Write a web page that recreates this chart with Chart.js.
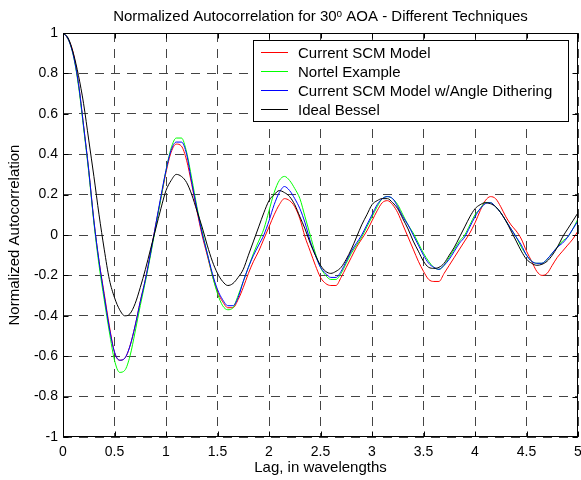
<!DOCTYPE html>
<html lang="en">
<head>
<meta charset="UTF-8">
<title>Normalized Autocorrelation for 30 AOA</title>
<style>
  html, body { margin: 0; padding: 0; background: #fff; }
  #chart { display: block; }
</style>
</head>
<body>
<canvas id="chart" width="581" height="480"></canvas>
<script src="https://cdn.jsdelivr.net/npm/chart.js@4.4.1/dist/chart.umd.min.js"></script>
<script>
// lag in wavelengths (x values)
var lag = [
  0, 0.05, 0.1, 0.15, 0.2, 0.25, 0.3, 0.35, 0.4, 0.45, 0.5, 0.55, 0.6, 0.65, 0.7, 0.75, 0.8, 0.85, 0.9, 0.95,
  1, 1.05, 1.1, 1.15, 1.2, 1.25, 1.3, 1.35, 1.4, 1.45, 1.5, 1.55, 1.6, 1.65, 1.7, 1.75, 1.8, 1.85, 1.9, 1.95,
  2, 2.05, 2.1, 2.15, 2.2, 2.25, 2.3, 2.35, 2.4, 2.45, 2.5, 2.55, 2.6, 2.65, 2.7, 2.75, 2.8, 2.85, 2.9, 2.95,
  3, 3.05, 3.1, 3.15, 3.2, 3.25, 3.3, 3.35, 3.4, 3.45, 3.5, 3.55, 3.6, 3.65, 3.7, 3.75, 3.8, 3.85, 3.9, 3.95,
  4, 4.05, 4.1, 4.15, 4.2, 4.25, 4.3, 4.35, 4.4, 4.45, 4.5, 4.55, 4.6, 4.65, 4.7, 4.75, 4.8, 4.85, 4.9, 4.95,
  5
];

var currentScm = [
  1.00, 0.97, 0.90, 0.75, 0.54, 0.32, 0.07, -0.13, -0.29, -0.45, -0.58, -0.62, -0.61, -0.55, -0.45, -0.33, -0.22, -0.09, 0.05, 0.18,
  0.31, 0.41, 0.45, 0.44, 0.37, 0.25, 0.12, 0.00, -0.10, -0.20, -0.28, -0.33, -0.36, -0.36, -0.32, -0.26, -0.19, -0.13, -0.08, -0.02,
  0.04, 0.10, 0.15, 0.18, 0.17, 0.14, 0.08, -0.01, -0.08, -0.15, -0.21, -0.24, -0.25, -0.25, -0.21, -0.16, -0.11, -0.06, -0.02, 0.02,
  0.07, 0.12, 0.16, 0.17, 0.15, 0.11, 0.05, -0.01, -0.07, -0.13, -0.18, -0.22, -0.23, -0.23, -0.19, -0.15, -0.11, -0.07, -0.03, 0.01,
  0.06, 0.12, 0.17, 0.19, 0.18, 0.14, 0.09, 0.05, 0.02, -0.02, -0.08, -0.13, -0.18, -0.20, -0.19, -0.15, -0.11, -0.08, -0.05, -0.02,
  0.02
];

var nortel = [
  1.00, 0.97, 0.89, 0.74, 0.53, 0.31, 0.06, -0.15, -0.32, -0.48, -0.62, -0.68, -0.67, -0.60, -0.48, -0.35, -0.23, -0.10, 0.04, 0.18,
  0.32, 0.43, 0.48, 0.48, 0.41, 0.28, 0.14, 0.02, -0.09, -0.20, -0.29, -0.35, -0.37, -0.36, -0.30, -0.23, -0.16, -0.09, -0.03, 0.03,
  0.12, 0.21, 0.27, 0.29, 0.27, 0.23, 0.18, 0.09, 0.00, -0.09, -0.16, -0.20, -0.22, -0.22, -0.19, -0.14, -0.09, -0.05, -0.01, 0.04,
  0.09, 0.14, 0.18, 0.19, 0.18, 0.15, 0.10, 0.05, 0.01, -0.04, -0.09, -0.13, -0.16, -0.17, -0.15, -0.11, -0.07, -0.03, 0.00, 0.05,
  0.10, 0.13, 0.16, 0.16, 0.14, 0.11, 0.07, 0.03, -0.01, -0.06, -0.10, -0.13, -0.14, -0.14, -0.12, -0.09, -0.06, -0.03, -0.01, 0.03,
  0.08
];

var dithering = [
  1.00, 0.97, 0.89, 0.75, 0.54, 0.32, 0.07, -0.13, -0.30, -0.46, -0.58, -0.62, -0.61, -0.55, -0.45, -0.33, -0.22, -0.09, 0.05, 0.19,
  0.32, 0.42, 0.46, 0.46, 0.40, 0.26, 0.13, 0.01, -0.09, -0.19, -0.27, -0.32, -0.35, -0.35, -0.31, -0.23, -0.16, -0.10, -0.05, 0.00,
  0.07, 0.15, 0.21, 0.24, 0.22, 0.18, 0.13, 0.06, -0.03, -0.10, -0.16, -0.19, -0.21, -0.21, -0.18, -0.13, -0.08, -0.04, 0.00, 0.05,
  0.10, 0.15, 0.18, 0.19, 0.18, 0.14, 0.09, 0.05, 0.00, -0.05, -0.10, -0.14, -0.16, -0.17, -0.15, -0.12, -0.08, -0.04, -0.01, 0.04,
  0.09, 0.13, 0.155, 0.16, 0.14, 0.11, 0.07, 0.03, -0.01, -0.05, -0.10, -0.13, -0.14, -0.14, -0.12, -0.09, -0.06, -0.04, -0.01, 0.03,
  0.07
];

var idealBessel = [
  1.00, 0.975, 0.90, 0.79, 0.65, 0.47, 0.29, 0.10, -0.07, -0.22, -0.31, -0.37, -0.40, -0.39, -0.34, -0.26, -0.17, -0.07, 0.03, 0.13,
  0.22, 0.27, 0.30, 0.29, 0.26, 0.20, 0.12, 0.04, -0.05, -0.13, -0.19, -0.23, -0.25, -0.24, -0.21, -0.17, -0.10, -0.03, 0.04, 0.11,
  0.17, 0.20, 0.22, 0.21, 0.19, 0.15, 0.09, 0.03, -0.04, -0.10, -0.15, -0.18, -0.19, -0.18, -0.16, -0.12, -0.07, -0.01, 0.05, 0.10,
  0.15, 0.17, 0.18, 0.18, 0.16, 0.13, 0.08, 0.03, -0.03, -0.08, -0.13, -0.16, -0.165, -0.16, -0.14, -0.10, -0.06, -0.01, 0.04, 0.09,
  0.13, 0.15, 0.16, 0.155, 0.14, 0.11, 0.07, 0.02, -0.03, -0.08, -0.12, -0.14, -0.15, -0.145, -0.13, -0.10, -0.06, -0.01, 0.03, 0.07,
  0.11
];

var seriesNames = ['Current SCM Model', 'Nortel Example', 'Current SCM Model w/Angle Dithering', 'Ideal Bessel'];
var seriesColors = ['#ff0000', '#00ff00', '#0000ff', '#000000'];
var xTicks = [0, 0.5, 1, 1.5, 2, 2.5, 3, 3.5, 4, 4.5, 5];
var yTicks = [-1, -0.8, -0.6, -0.4, -0.2, 0, 0.2, 0.4, 0.6, 0.8, 1];

var FONT = '"Liberation Sans", Arial, Helvetica, sans-serif';

function points(ys) {
  return lag.map(function (x, i) { return { x: x, y: ys[i] }; });
}

// title with superscript "o"
var titlePlugin = {
  id: 'matlabTitle',
  afterDraw: function (chart) {
    var ctx = chart.ctx, a = chart.chartArea;
    var parts = [
      { t: 'Normalized Autocorrelation for 30', f: '15px ' + FONT, dy: 0 },
      { t: 'o', f: '10px ' + FONT, dy: -4 },
      { t: ' AOA - Different Techniques', f: '15px ' + FONT, dy: 0 }
    ];
    ctx.save();
    var total = 0;
    parts.forEach(function (p) { ctx.font = p.f; p.w = ctx.measureText(p.t).width; total += p.w; });
    var x = (a.left + a.right) / 2 - total / 2;
    ctx.fillStyle = '#000';
    ctx.textBaseline = 'alphabetic';
    ctx.textAlign = 'left';
    parts.forEach(function (p) {
      ctx.font = p.f;
      ctx.fillText(p.t, x, 21 + p.dy);
      x += p.w;
    });
    ctx.restore();
  }
};

// axes box with inward ticks, and legend box
var framePlugin = {
  id: 'matlabFrame',
  afterDatasetsDraw: function (chart) {
    var ctx = chart.ctx, a = chart.chartArea;
    var xs = chart.scales.x, ys = chart.scales.y;
    var L = Math.round(a.left) + 0.5, R = Math.round(a.right) - 0.5;
    var T = Math.round(a.top) + 0.5, B = Math.round(a.bottom) - 0.5;
    ctx.save();
    ctx.strokeStyle = '#000';
    ctx.lineWidth = 1;
    ctx.setLineDash([]);
    ctx.strokeRect(L, T, R - L, B - T);
    ctx.beginPath();
    xTicks.forEach(function (v) {
      var px = Math.round(xs.getPixelForValue(v)) + 0.5;
      ctx.moveTo(px, B); ctx.lineTo(px, B - 5);
      ctx.moveTo(px, T); ctx.lineTo(px, T + 5);
    });
    yTicks.forEach(function (v) {
      var py = Math.round(ys.getPixelForValue(v)) + 0.5;
      ctx.moveTo(L, py); ctx.lineTo(L + 5, py);
      ctx.moveTo(R, py); ctx.lineTo(R - 5, py);
    });
    ctx.stroke();

    // legend
    var bx = 253.5, by = 40.5, bw = 315, bh = 81;
    ctx.fillStyle = '#fff';
    ctx.fillRect(bx, by, bw, bh);
    ctx.strokeRect(bx, by, bw, bh);
    ctx.font = '15px ' + FONT;
    ctx.textBaseline = 'alphabetic';
    ctx.textAlign = 'left';
    chart.data.datasets.forEach(function (ds, i) {
      var rowY = 52 + i * 19;
      ctx.strokeStyle = ds.borderColor;
      ctx.beginPath();
      ctx.moveTo(261, rowY + 0.5);
      ctx.lineTo(288, rowY + 0.5);
      ctx.stroke();
      ctx.fillStyle = '#000';
      ctx.fillText(ds.label, 298, rowY + 5.5);
    });
    ctx.restore();
  }
};

var tickFont = { family: FONT, size: 14 };
var labelFont = { family: FONT, size: 15 };

new Chart(document.getElementById('chart'), {
  type: 'line',
  data: {
    datasets: [currentScm, nortel, dithering, idealBessel].map(function (ys, i) {
      return {
        label: seriesNames[i],
        data: points(ys),
        borderColor: seriesColors[i],
        backgroundColor: seriesColors[i],
        borderWidth: 1,
        pointRadius: 0,
        cubicInterpolationMode: 'monotone',
        fill: false,
        order: 4 - i
      };
    })
  },
  options: {
    responsive: false,
    animation: false,
    layout: { padding: { top: 33, right: 3, bottom: 0, left: 0 } },
    plugins: {
      legend: { display: false },
      title: { display: false },
      tooltip: { enabled: false }
    },
    scales: {
      x: {
        type: 'linear',
        min: 0,
        max: 5,
        afterBuildTicks: function (s) { s.ticks = xTicks.map(function (v) { return { value: v }; }); },
        afterFit: function (s) { s.height = 43; s.paddingLeft = 0; s.paddingRight = 0; },
        grid: { color: '#444', lineWidth: 1, drawTicks: false },
        border: { display: false, dash: [9, 7] },
        ticks: {
          color: '#000', font: tickFont, padding: 7, maxRotation: 0, autoSkip: false,
          callback: function (v) { return String(v); }
        },
        title: { display: true, text: 'Lag, in wavelengths', color: '#000', font: labelFont, padding: { top: 0, bottom: 3 } }
      },
      y: {
        type: 'linear',
        min: -1,
        max: 1,
        afterBuildTicks: function (s) { s.ticks = yTicks.map(function (v) { return { value: v }; }); },
        afterFit: function (s) { s.width = 63; s.paddingTop = 0; s.paddingBottom = 0; },
        grid: { color: '#444', lineWidth: 1, drawTicks: false },
        border: { display: false, dash: [9, 7] },
        ticks: {
          color: '#000', font: tickFont, padding: 5, autoSkip: false,
          callback: function (v) { return String(v); }
        },
        title: { display: true, text: 'Normalized Autocorrelation', color: '#000', font: labelFont, padding: { top: 6, bottom: 0 } }
      }
    }
  },
  plugins: [titlePlugin, framePlugin]
});
</script>
</body>
</html>
